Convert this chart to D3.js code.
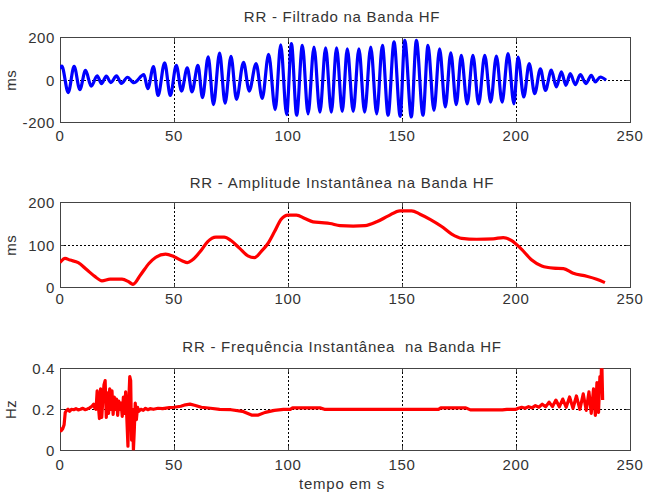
<!DOCTYPE html>
<html><head><meta charset="utf-8">
<script src="https://cdn.jsdelivr.net/npm/d3@7"></script>
<style>
body{margin:0;background:#fff}
svg{display:block}
text{font-family:"Liberation Sans",Arial,Helvetica,sans-serif;fill:#333}
</style>
</head><body>
<svg id="chart" width="646" height="495"></svg>
<script>
// ---------- data ----------
const xTicks = [0, 50, 100, 150, 200, 250];
const titles = ["RR - Filtrado na Banda HF", "RR - Amplitude Instantânea na Banda HF", "RR - Frequência Instantânea  na Banda HF"];
const yLabels = ["ms", "ms", "Hz"];
const xLabel = "tempo em s";
const yTicks1 = [-200, 0, 200];
const yTicks2 = [0, 100, 200];
const yTicks3 = [0, 0.2, 0.4];
const yTickLabels3 = ["0", "0.2", "0.4"];

// panel 1: filtered RR (local extrema)
const filtT = [0,0.8,3.6,6.2,8.7,11.2,13.7,16.3,18.2,20.3,22.3,24.8,26.9,29.6,32.4,36.8,38.5,41.0,43.0,45.9,48.4,51.0,53.3,55.8,57.9,60.5,62.5,65.0,67.3,70.0,72.4,75.0,77.4,80.5,83.0,86.0,88.7,91.5,94.4,96.8,99.4,101.5,103.8,106.3,108.8,111.4,114.0,116.5,119.0,121.3,123.8,126.0,128.6,131.1,133.6,136.3,138.9,141.4,143.9,146.5,149.2,151.2,154.1,156.3,159.2,161.4,164.0,166.5,169.0,171.4,173.8,176.0,178.6,181.1,183.6,186.3,188.9,191.4,193.9,196.5,199.1,200.9,203.4,205.8,208.2,210.7,212.9,215.5,217.7,219.9,221.9,223.8,226.0,228.2,230.7,233.0,234.8,237.0,239.5];
const filtV = [55,66,-58,65,-44,46,-28,21,-16,19,-11,20,-15,14,-12,26,-40,64,-72,82,-72,70,-51,58,-55,70,-82,110,-115,127,-108,112,-90,84,-51,78,-86,122,-138,166,-162,172,-165,164,-158,156,-150,152,-150,152,-147,148,-147,148,-150,156,-158,164,-165,180,-170,188,-173,188,-165,164,-142,148,-126,129,-115,117,-111,117,-111,117,-103,114,-103,125,-111,109,-79,78,-63,54,-48,47,-32,39,-24,31,-21,26,-16,23,-8,15,0];

// panel 2: instantaneous amplitude
const ampT = [0,2.2,4.4,8,11.8,15.4,18.4,22,27.2,30.1,32,35.3,39,41.9,46.3,50,53.7,55.9,58,61.8,64.7,68.4,72,75,78.7,82.4,85.3,88.2,91.2,94.1,97,100,103.7,107.4,111,114.7,118.4,122.8,128.6,133.8,138.9,144,149.1,154.2,157.9,162.3,167.4,171.8,176.2,182.7,190,194.4,198.1,202.5,206.9,211.3,216.4,220.8,225.1,231,235.4,239];
const ampV = [59,69,65,59,42,26,16,20,20,14,8,30,57,71,79,73,63,59,65,87,108,119,119,111,93,75,71,85,104,132,161,171,171,163,155,153,151,146,145,146,155,169,181,181,173,161,144,126,116,114,115,118,111,90,65,51,46,45,34,27,20,12];

// panel 3: instantaneous frequency
const freqT = [0,0.5,1.2,1.8,2.3,3.0,3.5,4.2,5,6,7,8,9,10,11,12,13,14,14.8,15.3,15.8,16.3,16.8,17.3,17.8,18.3,18.8,19.3,19.8,20.3,20.8,21.3,21.8,22.3,22.8,23.3,23.8,24.3,24.8,25.3,25.8,26.3,26.8,27.3,27.8,28.3,28.8,29.3,29.8,30.2,30.6,31.0,31.4,31.8,32.2,32.6,33.0,33.5,34.0,34.5,35.5,36.5,37.5,38.5,39.5,41,43,45,48,50,53,55,57,59,62,66,70,75,80,84,87,90,94,98,101,102,114,116,166,167,178,180,194,196,200,201,202.5,204,205.5,207,208.5,210,211.5,213,214.5,216,217.5,219,220.5,222,223.5,225,226.5,228,229.5,230.8,232,233,234,234.8,235.5,236.2,236.8,237.2,237.6,238];
const freqV = [0.11,0.095,0.105,0.125,0.185,0.195,0.2,0.19,0.2,0.198,0.203,0.197,0.2,0.205,0.198,0.202,0.207,0.215,0.225,0.205,0.2,0.29,0.22,0.155,0.3,0.16,0.25,0.32,0.34,0.16,0.28,0.18,0.3,0.2,0.29,0.175,0.26,0.2,0.25,0.17,0.24,0.2,0.23,0.165,0.26,0.18,0.285,0.16,0.02,0.25,0.36,0.34,0.05,0.2,0.0,0.1,0.23,0.15,0.21,0.19,0.2,0.195,0.205,0.198,0.203,0.2,0.205,0.203,0.208,0.21,0.215,0.222,0.225,0.22,0.21,0.205,0.2,0.198,0.19,0.172,0.172,0.185,0.195,0.2,0.2,0.207,0.207,0.2,0.2,0.207,0.207,0.197,0.197,0.2,0.2,0.205,0.21,0.205,0.213,0.207,0.218,0.21,0.225,0.212,0.235,0.213,0.245,0.212,0.25,0.21,0.26,0.205,0.265,0.2,0.275,0.195,0.285,0.18,0.3,0.17,0.33,0.185,0.36,0.3,0.45,0.245];

// ---------- drawing ----------
const svg = d3.select("#chart");
svg.append("rect").attr("width", 646).attr("height", 495).attr("fill", "#fff");
const X0 = 60, X1 = 630;

const panels = [
  {top: 37.7, bottom: 122.7, domain: [-200, 200], ticks: yTicks1, fmt: d => String(d), grid: [0], t: filtT, v: filtV, color: "#0000ff", curve: d3.curveMonotoneX, titleY: 21.5, xlabY: 141},
  {top: 202.7, bottom: 287.7, domain: [0, 200], ticks: yTicks2, fmt: d => String(d), grid: [100], t: ampT, v: ampV, color: "#ff0000", curve: d3.curveMonotoneX, titleY: 188, xlabY: 304},
  {top: 368.3, bottom: 450.3, domain: [0, 0.4], ticks: yTicks3, fmt: (d, i) => yTickLabels3[i], grid: [0, 0.2, 0.4], t: freqT, v: freqV, color: "#ff0000", curve: d3.curveLinear, titleY: 352, xlabY: 470}
];

const x = d3.scaleLinear().domain([0, 250]).range([X0, X1]);

panels.forEach((p, i) => {
  const y = d3.scaleLinear().domain(p.domain).range([p.bottom, p.top]);
  const g = svg.append("g");
  const clipId = "clip" + i;
  svg.append("clipPath").attr("id", clipId).append("rect")
    .attr("x", X0).attr("y", p.top).attr("width", X1 - X0).attr("height", p.bottom - p.top);

  // grid
  const vgrid = xTicks.filter(d => d > 0 && d < 250);
  g.selectAll(".vg").data(vgrid).enter().append("line")
    .attr("x1", d => x(d)).attr("x2", d => x(d)).attr("y1", p.top).attr("y2", p.bottom)
    .attr("stroke", "#000").attr("stroke-width", 1).attr("stroke-dasharray", "2,2").attr("shape-rendering", "crispEdges");
  g.selectAll(".hg").data(p.grid).enter().append("line")
    .attr("x1", X0).attr("x2", X1).attr("y1", d => y(d)).attr("y2", d => y(d))
    .attr("stroke", "#000").attr("stroke-width", 1).attr("stroke-dasharray", "2,2").attr("shape-rendering", "crispEdges");

  // box
  g.append("rect").attr("x", X0).attr("y", p.top).attr("width", X1 - X0).attr("height", p.bottom - p.top)
    .attr("fill", "none").attr("stroke", "#444").attr("stroke-width", 1).attr("shape-rendering", "crispEdges");

  // inward ticks
  const tl = 4;
  xTicks.forEach(d => {
    g.append("line").attr("x1", x(d)).attr("x2", x(d)).attr("y1", p.bottom).attr("y2", p.bottom - tl).attr("stroke", "#444").attr("shape-rendering", "crispEdges");
    g.append("line").attr("x1", x(d)).attr("x2", x(d)).attr("y1", p.top).attr("y2", p.top + tl).attr("stroke", "#444").attr("shape-rendering", "crispEdges");
  });
  p.ticks.forEach(d => {
    g.append("line").attr("x1", X0).attr("x2", X0 + tl).attr("y1", y(d)).attr("y2", y(d)).attr("stroke", "#444").attr("shape-rendering", "crispEdges");
    g.append("line").attr("x1", X1).attr("x2", X1 - tl).attr("y1", y(d)).attr("y2", y(d)).attr("stroke", "#444").attr("shape-rendering", "crispEdges");
  });

  // data line
  const data = p.t.map((t, k) => [t, p.v[k]]);
  const line = d3.line().x(d => x(d[0])).y(d => y(d[1])).curve(p.curve);
  svg.append("path").datum(data).attr("d", line).attr("fill", "none")
    .attr("stroke", p.color).attr("stroke-width", 3.2).attr("stroke-linejoin", "round")
    .attr("clip-path", `url(#${clipId})`);

  // tick labels
  svg.append("g").selectAll("text").data(xTicks).enter().append("text")
    .attr("x", d => x(d)).attr("y", p.xlabY).attr("text-anchor", "middle")
    .style("font-size", "15px").style("letter-spacing", "0.6px").text(d => d);
  svg.append("g").selectAll("text").data(p.ticks).enter().append("text")
    .attr("x", 55).attr("y", d => y(d)).attr("dy", "0.36em").attr("text-anchor", "end")
    .style("font-size", "15px").style("letter-spacing", "0.6px").text((d, k) => p.fmt(d, k));

  // title
  svg.append("text").attr("x", 342).attr("y", p.titleY).attr("text-anchor", "middle")
    .style("font-size", "15px").style("letter-spacing", "0.75px").style("white-space", "pre").text(titles[i]);

  // y label
  svg.append("text").attr("transform", `translate(15.5,${(p.top + p.bottom) / 2}) rotate(-90)`)
    .attr("text-anchor", "middle").style("font-size", "15px").style("letter-spacing", "0.6px").text(yLabels[i]);
});

svg.append("text").attr("x", 342).attr("y", 489).attr("text-anchor", "middle")
  .style("font-size", "15px").style("letter-spacing", "0.75px").text(xLabel);
</script>
</body></html>
